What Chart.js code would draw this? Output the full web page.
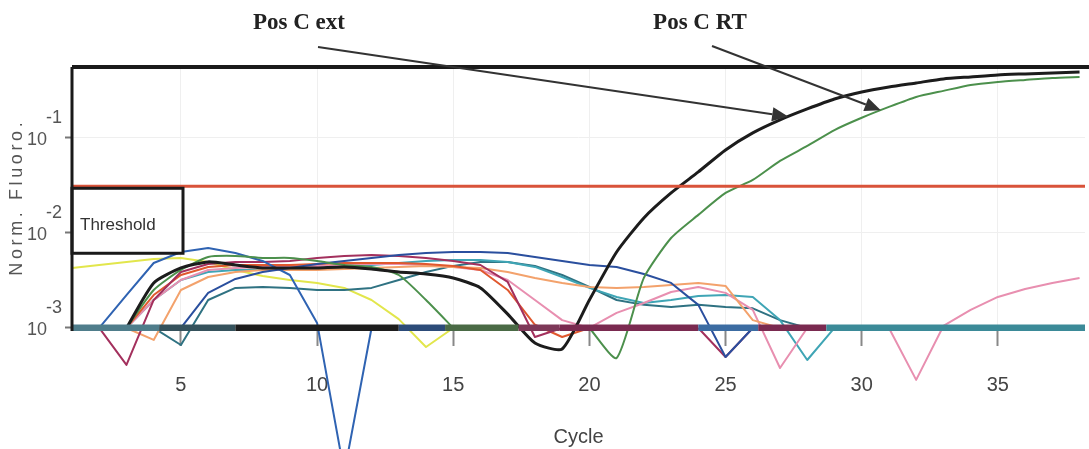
<!DOCTYPE html>
<html>
<head>
<meta charset="utf-8">
<script src="https://cdn.jsdelivr.net/npm/chart.js@4.4.0/dist/chart.umd.min.js"></script>
<style>
  html, body { margin: 0; padding: 0; background: #fff; }
</style>
</head>
<body>
<canvas id="amp" width="1089" height="449"></canvas>
<script>
// cycle numbers, one per reading
const cycles = [1, 2, 3, 4, 5, 6, 7, 8, 9, 10, 11, 12, 13, 14, 15, 16, 17, 18, 19, 20,
  21, 22, 23, 24, 25, 26, 27, 28, 29, 30, 31, 32, 33, 34, 35, 36, 37, 38];
const xTickValues = [5, 10, 15, 20, 25, 30, 35];
const yTickValues = [0.1, 0.01, 0.001];
const yTickLabels = [['-1', '10   '], ['-2', '10   '], ['-3', '10   ']];
const thresholdLevel = 0.031;
const floorLevel = 0.001;

// Norm. Fluoro. per cycle (null = lying on the floor line)
const posCExt = [null, null, 0.001, 0.00298, 0.00428, 0.00496, 0.0046, 0.00428, 0.00428, 0.00428,
  0.00439, 0.00418, 0.00388, 0.0037, 0.00336, 0.00264, 0.0014, 0.000695, 0.000601, 0.00197,
  0.0063, 0.0144, 0.0264, 0.0439, 0.0748, 0.113, 0.155, 0.202, 0.257, 0.305,
  0.344, 0.379, 0.418, 0.439, 0.461, 0.472, 0.483, 0.495];
const posCRT = [null, null, 0.001, 0.00251, 0.00408, 0.00559, 0.00573, 0.00546, 0.00546, 0.00507,
  0.0046, 0.00439, 0.00361, 0.00197, 0.001, null, null, null, null, 0.001,
  0.000483, 0.00336, 0.00885, 0.0155, 0.0264, 0.0361, 0.0573, 0.0824, 0.121, 0.163,
  0.212, 0.27, 0.313, 0.361, 0.388, 0.408, 0.428, 0.439];
const yellowSample = [0.00428, 0.0046, 0.00495, 0.00532, 0.00546, 0.00495, 0.00408, 0.00352, 0.0032, 0.00298,
  0.00264, 0.00197, 0.00124, 0.00063, 0.001];
const blueSample = [null, 0.001, 0.00222, 0.00483, 0.0063, 0.00695, 0.00616, 0.00507, 0.00361, 0.00113,
  0.00003, 0.001];
const navySample = [null, null, null, null, 0.001, 0.00234, 0.00328, 0.00388, 0.00428, 0.00472,
  0.00507, 0.00546, 0.00586, 0.00616, 0.0063, 0.0063, 0.00616, 0.00559, 0.00507, 0.0046,
  0.00439, 0.0037, 0.00298, 0.00175, 0.000495, 0.001];
const tealSample = [null, null, null, 0.001, 0.000662, 0.00197, 0.00264, 0.0027, 0.00264, 0.00251,
  0.00251, 0.00264, 0.0032, 0.00388, 0.0045, 0.00495, 0.00495, 0.0045, 0.00361, 0.0027,
  0.00197, 0.00175, 0.00166, 0.00175, 0.00166, 0.00161, 0.00121, 0.001];
const cyanSample = [null, null, 0.001, 0.00197, 0.0032, 0.00388, 0.00408, 0.00408, 0.00408, 0.00428,
  0.00439, 0.0046, 0.00483, 0.00507, 0.0052, 0.0052, 0.00495, 0.00439, 0.00344, 0.00264,
  0.00212, 0.00183, 0.00197, 0.00217, 0.00222, 0.00212, 0.00121, 0.00046, 0.001];
const orangeSample = [null, null, 0.001, 0.000748, 0.00251, 0.00344, 0.00388, 0.00408, 0.00408, 0.00408,
  0.00418, 0.00428, 0.00439, 0.0045, 0.00439, 0.00428, 0.00388, 0.00336, 0.00298, 0.0027,
  0.00264, 0.0027, 0.00284, 0.00298, 0.00277, 0.00121, 0.001];
const pinkSample = [null, null, 0.001, 0.00197, 0.0032, 0.00408, 0.00428, 0.00439, 0.0045, 0.0045,
  0.0046, 0.00472, 0.00472, 0.0046, 0.00439, 0.00408, 0.0032, 0.00197, 0.00121, 0.001,
  0.00144, 0.00183, 0.00239, 0.0027, 0.00234, 0.00155, 0.000379, 0.001, null, null,
  0.001, 0.000284, 0.00105, 0.00155, 0.00212, 0.00257, 0.00298, 0.00336];
const redSample = [null, null, 0.001, 0.00222, 0.00361, 0.00439, 0.0046, 0.0046, 0.0046, 0.00472,
  0.00483, 0.00483, 0.00483, 0.00472, 0.0045, 0.00408, 0.00251, 0.00108, 0.000804, 0.001];
const maroonSample = [null, 0.001, 0.000408, 0.00197, 0.00388, 0.00472, 0.00495, 0.00495, 0.00507, 0.00546,
  0.00573, 0.00586, 0.00573, 0.00546, 0.00507, 0.0046, 0.00305, 0.000804, 0.001, null,
  null, null, null, 0.001, 0.000495, 0.001];

// where the overlapping floor line changes colour
const bandCycles = [1, 4.2, 7, 13, 14.7, 17.4, 18.9, 24, 26.2, 28.7, 38.2];
const bandColors = ['#4f7d8b', '#35525c', '#1d1d1d', '#2c4b78', '#4a6a45', '#7d3858',
  '#7a2a50', '#3c6ca2', '#7a2a50', '#3b8a98'];

const callouts = [
  { text: 'Pos C ext', series: posCExt, cycle: 27.3, tx: 299, ty: 23, sx: 318, sy: 47 },
  { text: 'Pos C RT', series: posCRT, cycle: 30.7, tx: 700, ty: 23, sx: 712, sy: 46 }
];

const FONT = "'Liberation Sans', Arial, sans-serif";

function toPoints(values) {
  return values.map((v, i) => ({ x: cycles[i], y: v }));
}

function curve(values, color, width = 2, tension = 0) {
  return {
    data: toPoints(values),
    borderColor: color,
    borderWidth: width,
    pointRadius: 0,
    tension,
    borderJoinStyle: 'round',
    clip: false,
    spanGaps: false
  };
}

function valueAt(series, cycle) {
  const i = Math.floor(cycle) - 1;
  const f = cycle - Math.floor(cycle);
  const a = Math.log10(series[i]);
  const b = Math.log10(series[i + 1]);
  return Math.pow(10, a + (b - a) * f);
}

const datasets = [
  {
    data: bandCycles.map(c => ({ x: c, y: floorLevel })),
    borderWidth: 7,
    pointRadius: 0,
    borderCapStyle: 'butt',
    segment: { borderColor: ctx => bandColors[ctx.p0DataIndex] },
    borderColor: bandColors[0]
  },
  {
    data: [{ x: 1, y: thresholdLevel }, { x: 38.2, y: thresholdLevel }],
    borderColor: '#d9533a',
    borderWidth: 3,
    pointRadius: 0
  },
  curve(posCExt, '#1c1c1c', 3, 0.2),
  curve(posCRT, '#4c904c', 2, 0.2),
  curve(navySample, '#2a4f9e'),
  curve(blueSample, '#2f63b2'),
  curve(maroonSample, '#a3305d'),
  curve(redSample, '#e0582e'),
  curve(orangeSample, '#f3a26c'),
  curve(pinkSample, '#e88fb0'),
  curve(cyanSample, '#3fa5b5'),
  curve(tealSample, '#2f7282'),
  curve(yellowSample, '#e2e64c')
];

const framePlugin = {
  id: 'frame',
  afterDatasetsDraw(chart) {
    const { ctx, chartArea } = chart;
    const y = chart.scales.y;
    const floorY = y.getPixelForValue(floorLevel);
    const thrY = y.getPixelForValue(thresholdLevel);
    ctx.save();
    // threshold label box
    ctx.fillStyle = '#fff';
    ctx.fillRect(chartArea.left, thrY + 2, 111, 65);
    ctx.strokeStyle = '#1a1a1a';
    ctx.lineWidth = 3;
    ctx.strokeRect(chartArea.left, thrY + 2, 111, 65);
    ctx.fillStyle = '#333';
    ctx.font = "17px 'Liberation Sans', Arial, sans-serif";
    ctx.textBaseline = 'middle';
    ctx.fillText('Threshold', chartArea.left + 8, thrY + 39);
    // plot frame
    ctx.lineWidth = 4;
    ctx.beginPath();
    ctx.moveTo(chartArea.left, chartArea.top);
    ctx.lineTo(chart.width, chartArea.top);
    ctx.stroke();
    ctx.lineWidth = 3;
    ctx.beginPath();
    ctx.moveTo(chartArea.left, chartArea.top);
    ctx.lineTo(chartArea.left, floorY + 3);
    ctx.stroke();
    ctx.restore();
  },
  afterDraw(chart) {
    const { ctx } = chart;
    const x = chart.scales.x, y = chart.scales.y;
    ctx.save();
    callouts.forEach(c => {
      const tipX = x.getPixelForValue(c.cycle);
      const tipY = y.getPixelForValue(valueAt(c.series, c.cycle));
      ctx.strokeStyle = '#333';
      ctx.fillStyle = '#333';
      ctx.lineWidth = 2;
      const ang = Math.atan2(tipY - c.sy, tipX - c.sx);
      const bx = tipX - 16 * Math.cos(ang), by = tipY - 16 * Math.sin(ang);
      ctx.beginPath();
      ctx.moveTo(c.sx, c.sy);
      ctx.lineTo(bx, by);
      ctx.stroke();
      ctx.beginPath();
      ctx.moveTo(tipX, tipY);
      ctx.lineTo(bx + 7 * Math.sin(ang), by - 7 * Math.cos(ang));
      ctx.lineTo(bx - 7 * Math.sin(ang), by + 7 * Math.cos(ang));
      ctx.closePath();
      ctx.fill();
      ctx.fillStyle = '#222';
      ctx.font = "bold 23px 'Liberation Serif', 'Times New Roman', serif";
      ctx.textAlign = 'center';
      ctx.textBaseline = 'middle';
      ctx.fillText(c.text, c.tx, c.ty);
    });
    ctx.restore();
  }
};

new Chart(document.getElementById('amp'), {
  type: 'line',
  data: { datasets },
  plugins: [framePlugin],
  options: {
    responsive: false,
    animation: false,
    layout: { padding: { top: 67, right: 4, bottom: 0, left: 0 } },
    plugins: { legend: { display: false }, tooltip: { enabled: false } },
    scales: {
      x: {
        type: 'linear',
        min: 1,
        max: 38.2,
        afterFit: s => { s.height = 118; },
        afterBuildTicks: s => { s.ticks = xTickValues.map(v => ({ value: v })); },
        border: { display: false },
        grid: { color: '#efefef', tickColor: '#888', tickLength: 15, tickWidth: 2 },
        ticks: { color: '#444', padding: 27, maxRotation: 0, font: { family: FONT, size: 20 } },
        title: {
          display: true, text: 'Cycle', color: '#444',
          font: { family: FONT, size: 20 }, padding: { top: 0, bottom: 0 }
        }
      },
      y: {
        type: 'logarithmic',
        min: 0.000929,
        max: 0.558,
        afterFit: s => { s.width = 72; },
        afterBuildTicks: s => { s.ticks = yTickValues.map(v => ({ value: v })); },
        border: { display: false },
        grid: { color: '#efefef', tickColor: '#777', tickLength: 7, tickWidth: 2 },
        ticks: {
          color: '#555',
          padding: 3,
          labelOffset: -9,
          font: { family: FONT, size: 18, lineHeight: 1.2 },
          callback: v => yTickLabels[yTickValues.indexOf(v)]
        },
        title: {
          display: true,
          text: 'Norm. Fluoro.'.split('').join('\u2009'),
          color: '#555',
          font: { family: FONT, size: 18 },
          padding: { top: 6, bottom: 0 }
        }
      }
    }
  }
});
</script>
</body>
</html>
